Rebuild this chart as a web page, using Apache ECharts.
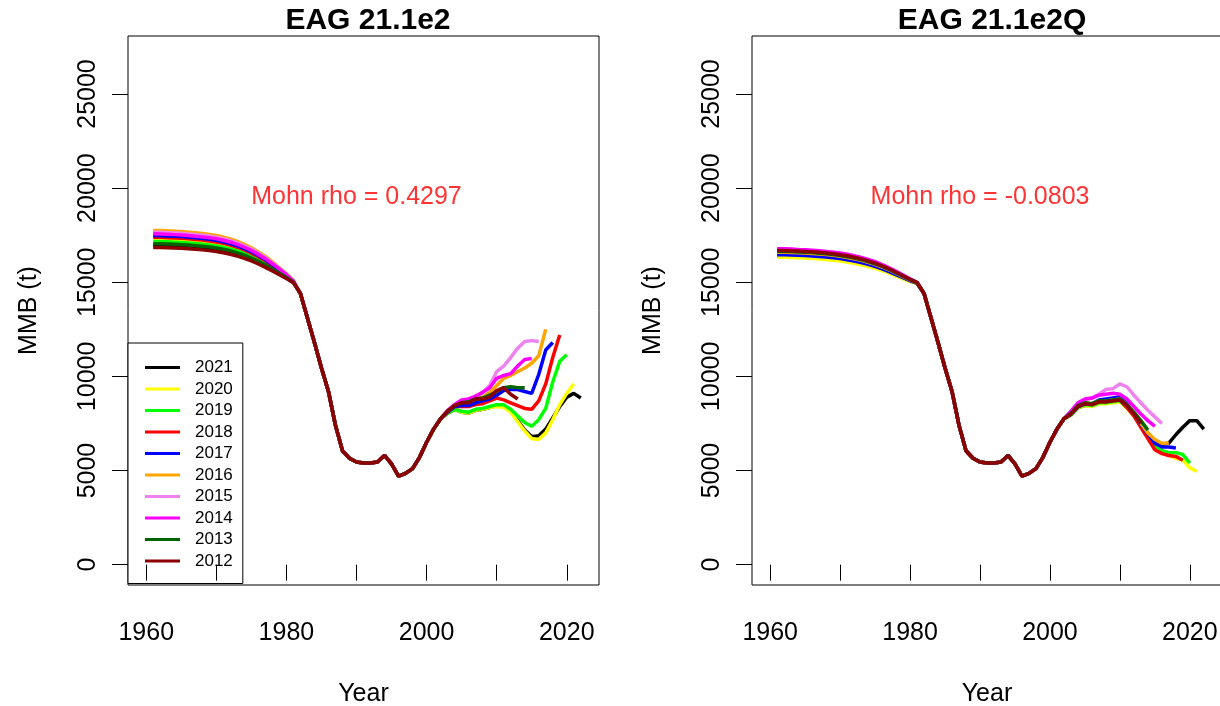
<!DOCTYPE html>
<html>
<head>
<meta charset="utf-8">
<script src="https://cdn.jsdelivr.net/npm/echarts@6/dist/echarts.min.js"></script>
<style>html,body{margin:0;padding:0;background:#fff;}#c{width:1220px;height:706px;}</style>
</head>
<body>
<div id="c"></div>
<script>
// ---------- DATA ----------
const seriesNames = ['2021','2020','2019','2018','2017','2016','2015','2014','2013','2012'];
const seriesColors = ['#000000','#FFFF00','#00FF00','#FF0000','#0000FF','#FFA500','#EE82EE','#FF00FF','#006400','#8B0000'];
const panelTitles = ['EAG 21.1e2','EAG 21.1e2Q'];
const mohnTexts = ['Mohn rho = 0.4297','Mohn rho = -0.0803'];
const mohnPos = [1990, 19500];
const xTicks = [1960,1970,1980,1990,2000,2010,2020];
const xLabels = [1960,1980,2000,2020];
const yTicks = [0,5000,10000,15000,20000,25000];
const firstYear = 1961;

// shared 1982-2002 trajectory
const hist = [14400,13100,11800,10450,9200,7400,6050,5650,5450,5400,5400,5450,5800,5350,4700,4850,5100,5700,6500,7200,7750];

// Left panel (EAG 21.1e2): 1961-1981 and 2003-end
const L2021_early = [16950,16945,16935,16920,16900,16875,16845,16815,16775,16725,16660,16580,16475,16350,16205,16040,15855,15655,15440,15230,14990];
const L2021_late  = [8050,8250,8100,8050,8200,8250,8350,8450,8400,8200,7650,7150,6800,6850,7200,7800,8400,8900,9100,8850];
const L2020_early = [17255,17250,17240,17220,17200,17175,17145,17110,17065,17010,16945,16855,16740,16605,16445,16260,16050,15815,15565,15310,15025];
const L2020_late  = [8050,8250,8100,8050,8200,8250,8350,8400,8350,8100,7600,7100,6700,6650,7000,7700,8500,9100,9600];
const L2019_early = [17165,17160,17150,17130,17110,17090,17055,17025,16980,16930,16860,16775,16665,16530,16375,16195,15995,15770,15530,15290,15015];
const L2019_late  = [8050,8250,8150,8100,8250,8300,8400,8500,8500,8250,7900,7550,7350,7700,8300,9700,10800,11150];
const L2018_early = [17390,17385,17370,17355,17335,17310,17275,17240,17195,17140,17070,16975,16860,16715,16550,16355,16140,15890,15620,15350,15040];
const L2018_late  = [8100,8400,8400,8400,8500,8550,8700,8850,8750,8600,8450,8300,8250,8700,9600,11000,12200];
const L2017_early = [17480,17475,17460,17445,17425,17395,17365,17325,17280,17225,17150,17055,16935,16790,16620,16420,16195,15935,15660,15375,15050];
const L2017_late  = [8100,8400,8450,8450,8600,8700,8800,9000,9250,9300,9300,9200,9100,10100,11400,11800];
const L2016_early = [17750,17745,17730,17710,17690,17660,17625,17585,17540,17480,17400,17300,17170,17010,16830,16610,16370,16080,15770,15450,15080];
const L2016_late  = [8150,8450,8650,8650,8800,8900,9150,9500,9900,10050,10250,10450,10700,11100,12500];
const L2015_early = [17660,17655,17640,17620,17600,17570,17540,17500,17455,17395,17315,17220,17090,16935,16760,16545,16310,16030,15735,15425,15070];
const L2015_late  = [8150,8500,8700,8750,8900,9150,9500,10250,10550,11000,11500,11850,11900,11850];
const L2014_early = [17570,17565,17550,17530,17510,17485,17450,17410,17370,17310,17235,17140,17015,16860,16690,16480,16255,15985,15695,15400,15060];
const L2014_late  = [8200,8500,8750,8800,8950,9150,9400,9900,10050,10150,10550,10900,10950];
const L2013_early = [17050,17045,17030,17015,16995,16975,16945,16910,16870,16815,16755,16670,16560,16435,16285,16110,15920,15705,15480,15255,15000];
const L2013_late  = [8150,8450,8600,8650,8800,8850,9000,9200,9400,9450,9400,9400];
const L2012_early = [16850,16845,16835,16820,16800,16780,16750,16720,16680,16630,16570,16490,16390,16270,16130,15970,15790,15600,15400,15200,14980];
const L2012_late  = [8150,8450,8600,8600,8800,8800,8900,9250,9400,9050,8800];

// Right panel (EAG 21.1e2Q)
const R2021_early = [16400,16395,16385,16365,16350,16330,16305,16275,16240,16195,16135,16070,15990,15895,15795,15670,15525,15370,15210,15060,14940];
const R2021_late  = [7950,8350,8450,8450,8600,8600,8650,8700,8350,7950,7450,7000,6600,6400,6450,6900,7300,7650,7650,7200];
const R2020_early = [16330,16325,16315,16300,16285,16265,16240,16210,16175,16130,16075,16010,15930,15840,15740,15620,15480,15330,15180,15040,14930];
const R2020_late  = [7950,8350,8450,8400,8550,8550,8600,8650,8300,7900,7350,6800,6250,5950,5800,5650,5550,5150,4950];
const R2019_early = [16510,16505,16495,16480,16465,16440,16415,16380,16345,16300,16240,16170,16085,15990,15880,15750,15595,15430,15260,15095,14960];
const R2019_late  = [7950,8350,8500,8450,8600,8600,8650,8700,8350,7950,7400,6850,6300,6050,5950,5950,5850,5400];
const R2018_early = [16555,16550,16540,16525,16510,16485,16460,16425,16390,16340,16280,16210,16125,16025,15915,15780,15625,15455,15280,15110,14965];
const R2018_late  = [8000,8400,8550,8500,8650,8650,8700,8750,8350,7900,7300,6700,6100,5900,5800,5750,5550];
const R2017_early = [16465,16460,16450,16435,16420,16395,16370,16340,16305,16255,16200,16130,16045,15950,15845,15715,15565,15405,15240,15080,14950];
const R2017_late  = [8000,8400,8550,8550,8750,8800,8850,8900,8550,8000,7450,6950,6450,6250,6250,6200];
const R2016_early = [16600,16595,16585,16565,16550,16530,16500,16470,16430,16380,16320,16250,16160,16060,15950,15810,15655,15480,15300,15125,14970];
const R2016_late  = [8050,8450,8600,8550,8700,8700,8750,8800,8500,8000,7500,7000,6650,6450,6450];
const R2015_early = [16760,16750,16740,16720,16710,16680,16650,16620,16580,16530,16465,16390,16300,16190,16070,15920,15760,15570,15370,15170,15000];
const R2015_late  = [8100,8550,8750,8850,9050,9300,9350,9600,9450,9000,8600,8200,7850,7500];
const R2014_early = [16780,16775,16765,16745,16730,16705,16675,16640,16600,16550,16485,16410,16315,16210,16090,15940,15770,15580,15380,15180,15000];
const R2014_late  = [8150,8600,8800,8850,9000,9050,9100,9050,8800,8400,8000,7650,7350];
const R2013_early = [16645,16640,16630,16610,16595,16575,16545,16510,16475,16425,16360,16290,16200,16100,15985,15845,15685,15505,15320,15140,14980];
const R2013_late  = [8050,8450,8600,8550,8700,8700,8750,8800,8500,8100,7650,7150];
const R2012_early = [16690,16685,16675,16660,16640,16615,16590,16555,16515,16465,16405,16330,16240,16135,16020,15875,15710,15530,15340,15150,14985];
const R2012_late  = [8000,8400,8550,8500,8650,8650,8700,8750,8450,8000,7500];

const leftSets = [
  [L2021_early,L2021_late],[L2020_early,L2020_late],[L2019_early,L2019_late],[L2018_early,L2018_late],
  [L2017_early,L2017_late],[L2016_early,L2016_late],[L2015_early,L2015_late],[L2014_early,L2014_late],
  [L2013_early,L2013_late],[L2012_early,L2012_late]];
const rightSets = [
  [R2021_early,R2021_late],[R2020_early,R2020_late],[R2019_early,R2019_late],[R2018_early,R2018_late],
  [R2017_early,R2017_late],[R2016_early,R2016_late],[R2015_early,R2015_late],[R2014_early,R2014_late],
  [R2013_early,R2013_late],[R2012_early,R2012_late]];

// ---------- CHART ----------
const FONT = '"Liberation Sans", Arial, sans-serif';
const chart = echarts.init(document.getElementById('c'), null, {renderer:'canvas'});

function toPairs(parts){
  const vals = parts[0].concat(hist, parts[1]);
  return vals.map((v,i)=>[firstYear+i, v]);
}

const grids = [
  {left:128, top:36, width:471, height:549},
  {left:752, top:36, width:470, height:549}
];

function xAxisFor(i){
  return {
    type:'value', gridIndex:i, min:1957.4, max:2024.6, z:30,
    axisLine:{show:false},
    axisTick:{show:true, inside:false, length:16, customValues:xTicks, lineStyle:{color:'#000', width:1}},
    axisLabel:{show:true, customValues:xLabels, margin:36, fontSize:25, color:'#000', fontFamily:FONT,
               formatter:(v)=>String(Math.round(v))},
    splitLine:{show:false},
    name:'Year', nameLocation:'middle', nameGap:97,
    nameTextStyle:{fontSize:25, color:'#000', fontFamily:FONT}
  };
}
function yAxisFor(i){
  return {
    type:'value', gridIndex:i, min:-1080, max:28080, z:30,
    axisLine:{show:false},
    axisTick:{show:true, inside:false, length:16, customValues:yTicks, lineStyle:{color:'#000', width:1}},
    axisLabel:{show:true, customValues:yTicks, rotate:90, margin:27, fontSize:25, color:'#000', fontFamily:FONT,
               formatter:(v)=>String(Math.round(v))},
    splitLine:{show:false},
    name:'MMB (t)', nameLocation:'middle', nameGap:86,
    nameTextStyle:{fontSize:25, color:'#000', fontFamily:FONT}
  };
}

const series = [];
[leftSets, rightSets].forEach((sets, p)=>{
  sets.forEach((parts, k)=>{
    series.push({
      type:'line', name:seriesNames[k], xAxisIndex:p, yAxisIndex:p,
      data:toPairs(parts), showSymbol:false, symbol:'none',
      lineStyle:{width:3.5, color:seriesColors[k]}, itemStyle:{color:seriesColors[k]},
      silent:true, animation:false
    });
  });
  series.push({
    type:'scatter', name:'mohn'+p, xAxisIndex:p, yAxisIndex:p,
    data:[mohnPos], symbolSize:1, itemStyle:{color:'rgba(0,0,0,0)'},
    label:{show:true, position:'inside', formatter:mohnTexts[p], fontSize:25, color:'#FF0000', fontFamily:FONT},
    silent:true, animation:false
  });
});

chart.setOption({
  backgroundColor:'#ffffff',
  animation:false,
  title:[
    {text:panelTitles[0], left:363, top:1, textAlign:'center', textStyle:{fontSize:30, fontWeight:'bold', color:'#000', fontFamily:FONT}},
    {text:panelTitles[1], left:987, top:1, textAlign:'center', textStyle:{fontSize:30, fontWeight:'bold', color:'#000', fontFamily:FONT}}
  ],
  grid: grids.map(g=>Object.assign({show:true, borderColor:'#000', borderWidth:1, backgroundColor:'transparent',
                                     containLabel:false, outerBoundsMode:'none'}, g)),
  xAxis:[xAxisFor(0), xAxisFor(1)],
  yAxis:[yAxisFor(0), yAxisFor(1)],
  legend:{
    orient:'vertical', left:128, top:343, data:seriesNames, icon:'rect', z:5,
    itemWidth:35, itemHeight:3, itemGap:4.5, selectedMode:false,
    textStyle:{fontSize:17, lineHeight:17, color:'#000', fontFamily:FONT, padding:[0,0,0,10]},
    backgroundColor:'#fff', borderColor:'#000', borderWidth:1, borderRadius:0,
    padding:[16,10,14,17]
  },
  series: series
});
</script>
</body>
</html>
